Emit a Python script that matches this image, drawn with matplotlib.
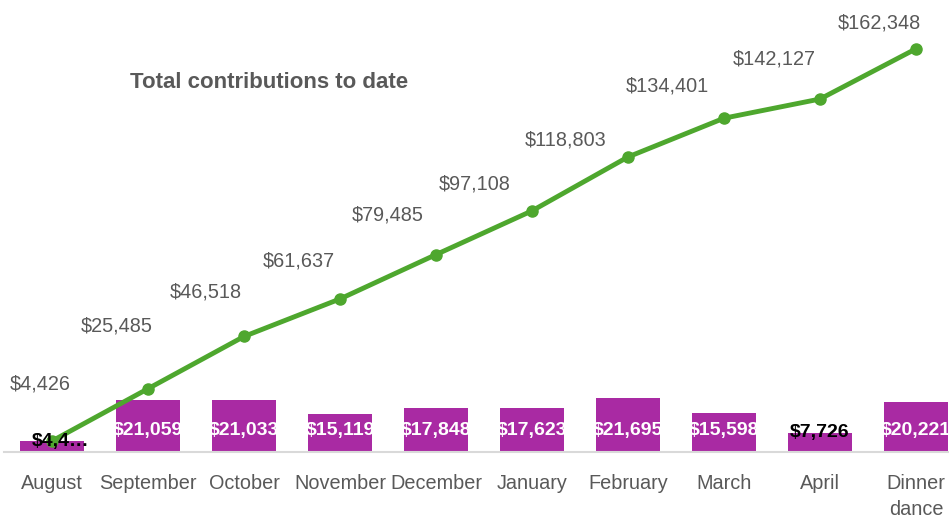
import matplotlib.pyplot as plt
import numpy as np

months = ['August', 'September', 'October', 'November', 'December',
          'January', 'February', 'March', 'April', 'Dinner\ndance']
monthly = [4426, 21059, 21033, 15119, 17848, 17623, 21695, 15598, 7726, 20221]
cumulative = [4426, 25485, 46518, 61637, 79485, 97108, 118803, 134401, 142127, 162348]
bar_text = ['$4,4…', '$21,059', '$21,033', '$15,119', '$17,848',
            '$17,623', '$21,695', '$15,598', '$7,726', '$20,221']

# label offsets for the running total, in pixels (dx, dy)
line_offsets = [(-12, 57), (-31, 63), (-38, 44), (-41, 38), (-48, 40),
                (-57, 27), (-62, 17), (-57, 32), (-46, 40), (-37, 26)]

W, H = 949, 515
fig = plt.figure(figsize=(W / 100, H / 100), dpi=100)
# axes runs past the right edge, the reference is cropped there
ax = fig.add_axes([4 / W, 63 / H, 960 / W, 452 / H])

purple = '#a92aa3'
green = '#4ea72e'
grey = '#595959'

x = np.arange(len(months))
ax.bar(x, monthly, width=0.667, color=purple, zorder=2)
ax.plot(x, cumulative, color=green, linewidth=3.5, marker='o',
        markersize=8, zorder=3)

for i, (v, t) in enumerate(zip(monthly, bar_text)):
    inside = v > 10000
    ax.text(x[i] + (0.09 if i == 0 else 0), min(v, 8850), t,
            ha='center', va='center', fontsize=14, fontweight='bold',
            family='Liberation Sans',
            color='white' if inside else 'black', zorder=4)

for i, v in enumerate(cumulative):
    dx, dy = line_offsets[i]
    ax.annotate(f'${v:,}', (x[i], v), xytext=(dx * 0.72, dy * 0.72),
                textcoords='offset points', ha='center', va='center',
                fontsize=14.3, family='Liberation Sans', color=grey)

fig.text(130 / W, 1 - 83 / H, 'Total contributions to date',
         ha='left', va='center', fontsize=16, fontweight='bold',
         family='Liberation Sans', color=grey)

ax.set_xlim(-0.5, 9.5)
ax.set_ylim(0, 182000)
ax.set_xticks(x)
ax.set_xticklabels(months, fontsize=14.3, color=grey, family='Liberation Sans',
                   linespacing=1.45)
ax.tick_params(axis='x', length=0, pad=16)
ax.set_yticks([])
for s in ['top', 'right', 'left']:
    ax.spines[s].set_visible(False)
ax.spines['bottom'].set_color('#d9d9d9')
ax.spines['bottom'].set_linewidth(1.5)

fig.savefig('out.png', dpi=100, facecolor='white')
